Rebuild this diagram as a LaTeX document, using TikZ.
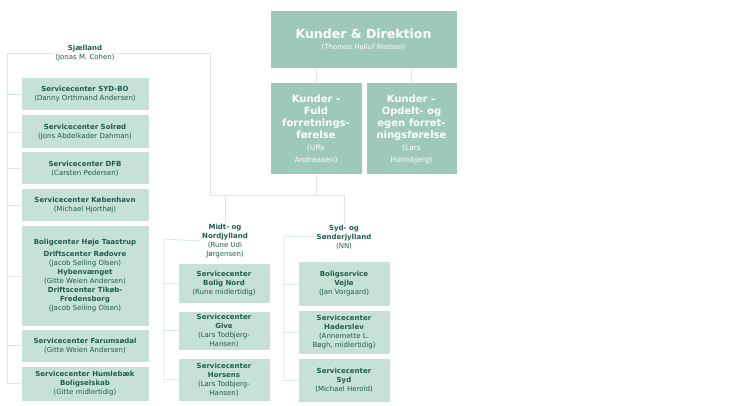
\documentclass[tikz,border=0pt]{standalone}
\usepackage{fontspec}
\setmainfont{DejaVu Sans}
\definecolor{dk}{HTML}{9EC8B9}
\definecolor{lt}{HTML}{C6E1D6}
\definecolor{tx}{HTML}{1F5E4F}
\definecolor{ln}{HTML}{D6E8E1}
\begin{document}
\begin{tikzpicture}[x=1pt,y=-1pt,
  big/.style={fill=dk,draw=white,line width=1pt,text=white,align=center,inner sep=1pt},
  sb/.style={fill=lt,draw=white,line width=1pt,text=tx,align=center,inner sep=1pt,font=\fontsize{7}{9}\selectfont},
  lab/.style={text=tx,align=center,inner sep=1pt,font=\fontsize{7}{9}\selectfont},
  nm/.style={font=\fontsize{7}{9}\selectfont\color{tx}},
  con/.style={draw=ln,line width=0.8pt}]
\useasboundingbox (0,0) rectangle (750,406);
% top
\node[big,minimum width=187,minimum height=58] (top) at (363.5,40) {{\fontsize{12.5}{15}\selectfont\bfseries Kunder \& Direktion}\\[-1pt]{\fontsize{7}{9}\selectfont (Thomas Holluf Nielsen)}};
\node[big,minimum width=92,minimum height=92] (fuld) at (316,129) {\fontsize{10}{13}\selectfont\bfseries Kunder -\\\fontsize{10}{13}\selectfont\bfseries Fuld\\\fontsize{10}{13}\selectfont\bfseries forretnings-\\\fontsize{10}{13}\selectfont\bfseries førelse\\\fontsize{7.5}{11}\selectfont (Uffe\\\fontsize{7.5}{11}\selectfont Andreasen)};
\node[big,minimum width=91,minimum height=92] (opd) at (411.5,129) {\fontsize{10}{13}\selectfont\bfseries Kunder –\\\fontsize{10}{13}\selectfont\bfseries Opdelt- og\\\fontsize{10}{13}\selectfont\bfseries egen forret-\\\fontsize{10}{13}\selectfont\bfseries ningsførelse\\\fontsize{7.5}{11}\selectfont (Lars\\\fontsize{7.5}{11}\selectfont Holmbjerg)};
% labels
\node[lab] (sj) at (85,53) {\bfseries Sjælland\\(Jonas M. Cohen)};
\node[lab] (midt) at (225,241) {\bfseries Midt- og\\\bfseries Nordjylland\\(Rune Udi\\Jørgensen)};
\node[lab] (syd) at (344,237) {\bfseries Syd- og\\\bfseries Sønderjylland\\(NN)};
% connectors
\coordinate (j) at (316,195);
\draw[con] (top.south -| fuld) -- (fuld.north);
\draw[con] (top.south -| opd) -- (opd.north);
\draw[con] (fuld.south) -- (j) -- (210,195) -- (210,53) -- (sj.east);
\draw[con] (225,195) -- (midt.north);
\draw[con] (j) -- (344,195) -- (syd.north);
\draw[con] (sj.west) -- (7,53) -- (7,383);
\draw[con] (midt.west) -- (164,239) -- (164,383);
\draw[con] (syd.west) -- (284,236) -- (284,381);
% Sjaelland boxes
\foreach \n/\cy/\h/\t in {
 a/94.5/33/{\bfseries Servicecenter SYD-BO\\(Danny Orthmand Andersen)},
 b/132/34/{\bfseries Servicecenter Solrød\\(Jons Abdelkader Dahman)},
 c/168.5/33/{\bfseries Servicecenter DFB\\(Carsten Pedersen)},
 d/205.5/33/{\bfseries Servicecenter København\\(Michael Hjorthøj)},
 e/276/100/{\bfseries Boligcenter Høje Taastrup\\[3pt]\bfseries Driftscenter Rødovre\\(Jacob Seiling Olsen)\\\bfseries Hybenvænget\\(Gitte Weien Andersen)\\\bfseries Driftscenter Tikøb-\\\bfseries Fredensborg\\(Jacob Seiling Olsen)},
 f/345.5/33/{\bfseries Servicecenter Farumsødal\\(Gitte Weien Andersen)},
 g/383.5/35/{\bfseries Servicecenter Humlebæk\\\bfseries Boligselskab\\(Gitte midlertidig)}}{
 \node[sb,minimum width=128,minimum height=\h] (\n) at (85,\cy) {\t};
 \draw[con] (7,\cy) -- (\n.west);
}
% Midt boxes
\foreach \n/\cy/\h/\t in {
 m1/283.5/39/{\bfseries Servicecenter\\\bfseries Bolig Nord\\(Rune midlertidig)},
 m2/330.5/39/{\bfseries Servicecenter\\\bfseries Give\\(Lars Todbjerg-\\Hansen)},
 m3/379.5/43/{\bfseries Servicecenter\\\bfseries Horsens\\(Lars Todbjerg-\\Hansen)}}{
 \node[sb,minimum width=92,minimum height=\h] (\n) at (224,\cy) {\t};
 \draw[con] (164,\cy) -- (\n.west);
}
% Syd boxes
\foreach \n/\cy/\h/\t in {
 s1/284/44/{\bfseries Boligservice\\\bfseries Vejle\\(Jan Vorgaard)},
 s2/332/44/{\bfseries Servicecenter\\\bfseries Haderslev\\(Annemette L.\\Bøgh, midlertidig)},
 s3/380/44/{\bfseries Servicecenter\\\bfseries Syd\\(Michael Herold)}}{
 \node[sb,minimum width=92,minimum height=\h] (\n) at (344,\cy) {\t};
 \draw[con] (284,\cy) -- (\n.west);
}
\end{tikzpicture}
\end{document}
